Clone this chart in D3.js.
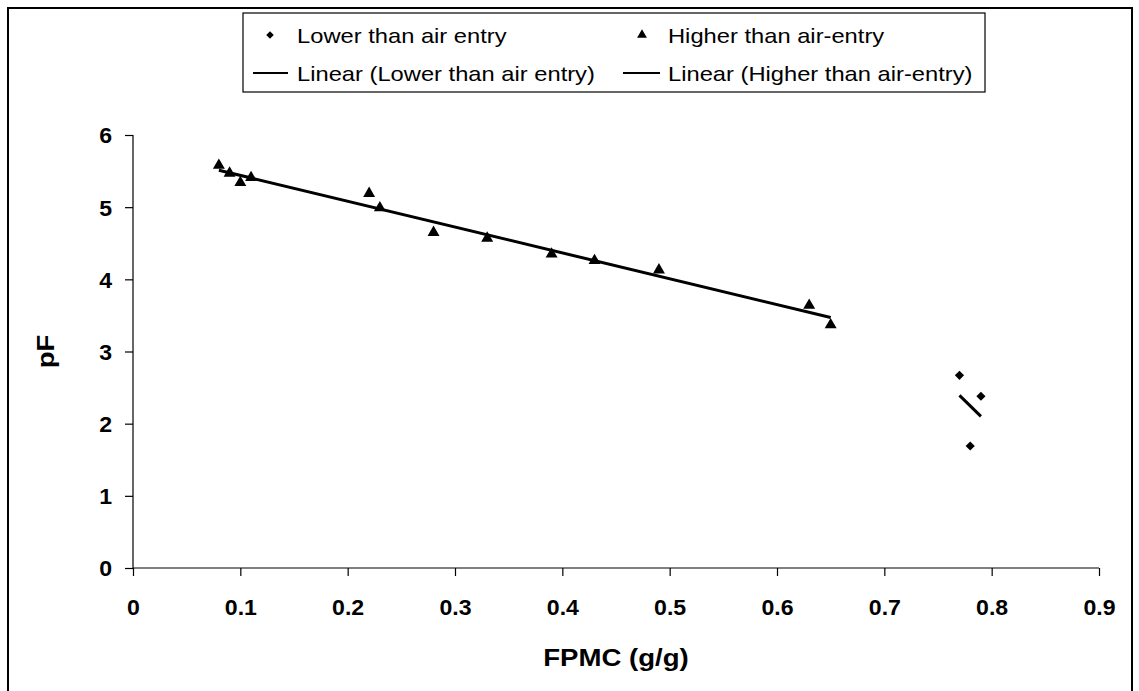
<!DOCTYPE html>
<html>
<head>
<meta charset="utf-8">
<script src="https://cdn.jsdelivr.net/npm/d3@7"></script>
<style>
  html, body { margin: 0; padding: 0; background: #fff; }
  svg { display: block; font-family: "Liberation Sans", Arial, sans-serif; }
</style>
</head>
<body>
<svg id="chart" width="1139" height="691"></svg>
<script>
// ---- data ----
const lowerX = [0.77, 0.79, 0.78];
const lowerY = [2.67, 2.38, 1.69];
const higherX = [0.08, 0.09, 0.10, 0.11, 0.22, 0.23, 0.28, 0.33, 0.39, 0.43, 0.49, 0.63, 0.65];
const higherY = [5.58, 5.47, 5.34, 5.41, 5.19, 4.99, 4.65, 4.57, 4.35, 4.26, 4.13, 3.64, 3.37];
const xTicks = [0, 0.1, 0.2, 0.3, 0.4, 0.5, 0.6, 0.7, 0.8, 0.9];
const yTicks = [0, 1, 2, 3, 4, 5, 6];
const legendLabels = ["Lower than air entry", "Higher than air-entry",
                      "Linear (Lower than air entry)", "Linear (Higher than air-entry)"];
const xTitle = "FPMC (g/g)";
const yTitle = "pF";

const svg = d3.select("#chart");

// outer border
svg.append("rect").attr("x", 8).attr("y", 8).attr("width", 1124).attr("height", 700)
  .attr("fill", "none").attr("stroke", "#000").attr("stroke-width", 2);

const x = d3.scaleLinear().domain([0, 0.9]).range([133, 1099]);
const y = d3.scaleLinear().domain([0, 6]).range([568, 135]);

// axes
const xAxis = svg.append("g").attr("transform", `translate(0,${y(0)})`)
  .call(d3.axisBottom(x).tickValues(xTicks).tickSize(8).tickPadding(0)
    .tickFormat(d => d === 0 ? "0" : d3.format(".1f")(d)));
xAxis.select(".domain").attr("stroke", "#000").attr("stroke-width", 1.2).attr("d", `M${x(0)},0H${x(0.9)}`);
xAxis.selectAll(".tick line").attr("stroke", "#000").attr("stroke-width", 1.2);
xAxis.selectAll(".tick text").attr("fill", "#000").attr("font-size", 22).attr("font-weight", "bold")
  .attr("y", 0).attr("dy", 0).attr("transform", `translate(0,47) scale(1.05,1)`);

const yAxis = svg.append("g").attr("transform", `translate(${x(0)},0)`)
  .call(d3.axisLeft(y).tickValues(yTicks).tickSize(8).tickPadding(0).tickFormat(d3.format("d")));
yAxis.select(".domain").attr("stroke", "#000").attr("stroke-width", 1.2).attr("d", `M0,${y(6)}V${y(0)}`);
yAxis.selectAll(".tick line").attr("stroke", "#000").attr("stroke-width", 1.2);
yAxis.selectAll(".tick text").attr("fill", "#000").attr("font-size", 22).attr("font-weight", "bold")
  .attr("x", 0).attr("dy", "0.36em").attr("transform", `translate(-21,0) scale(1.05,1)`);

// axis titles
svg.append("text").attr("transform", `translate(${x(0.45)},666) scale(1.15,1)`)
  .attr("text-anchor", "middle").attr("font-size", 24).attr("font-weight", "bold").text(xTitle);
svg.append("text").attr("transform", `translate(54,${(y(0)+y(6))/2}) rotate(-90) scale(1.15,1)`)
  .attr("text-anchor", "middle").attr("font-size", 24).attr("font-weight", "bold").text(yTitle);

// regression (Excel linear trendline)
function fit(xs, ys) {
  const mx = d3.mean(xs), my = d3.mean(ys);
  let sxy = 0, sxx = 0;
  xs.forEach((v, i) => { sxy += (v - mx) * (ys[i] - my); sxx += (v - mx) * (v - mx); });
  const b = sxy / sxx, a = my - b * mx;
  const [x0, x1] = d3.extent(xs);
  return [[x0, a + b * x0], [x1, a + b * x1]];
}
const line = d3.line().x(d => x(d[0])).y(d => y(d[1]));
svg.append("path").attr("d", line(fit(higherX, higherY))).attr("stroke", "#000").attr("stroke-width", 3).attr("fill", "none");
svg.append("path").attr("d", line(fit(lowerX, lowerY))).attr("stroke", "#000").attr("stroke-width", 3).attr("fill", "none");

// markers
const tri = d3.symbol().type(d3.symbolTriangle).size(62);
const dia = d3.symbol().type(d3.symbolSquare).size(42);
svg.append("g").selectAll("path").data(higherX.map((v, i) => [v, higherY[i]])).join("path")
  .attr("d", tri).attr("transform", d => `translate(${x(d[0])},${y(d[1])})`).attr("fill", "#000");
svg.append("g").selectAll("path").data(lowerX.map((v, i) => [v, lowerY[i]])).join("path")
  .attr("d", dia).attr("transform", d => `translate(${x(d[0])},${y(d[1])}) rotate(45)`).attr("fill", "#000");

// legend
const lg = svg.append("g");
lg.append("rect").attr("x", 243).attr("y", 13).attr("width", 742).attr("height", 79)
  .attr("fill", "#fff").attr("stroke", "#000").attr("stroke-width", 1.2);
const row1 = 35, row2 = 73;
lg.append("path").attr("d", d3.symbol().type(d3.symbolSquare).size(28)).attr("fill", "#000")
  .attr("transform", `translate(270,${row1}) rotate(45)`);
lg.append("path").attr("d", d3.symbol().type(d3.symbolTriangle).size(42)).attr("fill", "#000")
  .attr("transform", `translate(642,${row1})`);
lg.append("line").attr("x1", 253).attr("x2", 288).attr("y1", row2).attr("y2", row2).attr("stroke", "#000").attr("stroke-width", 2.2);
lg.append("line").attr("x1", 623).attr("x2", 660).attr("y1", row2).attr("y2", row2).attr("stroke", "#000").attr("stroke-width", 2.2);
const lpos = [[297, row1], [668, row1], [297, row2], [668, row2]];
legendLabels.forEach((t, i) => {
  lg.append("text").attr("transform", `translate(${lpos[i][0]},${lpos[i][1]}) scale(1.13,1)`)
    .attr("dy", "0.36em").attr("font-size", 21).attr("fill", "#000").text(t);
});
</script>
</body>
</html>
